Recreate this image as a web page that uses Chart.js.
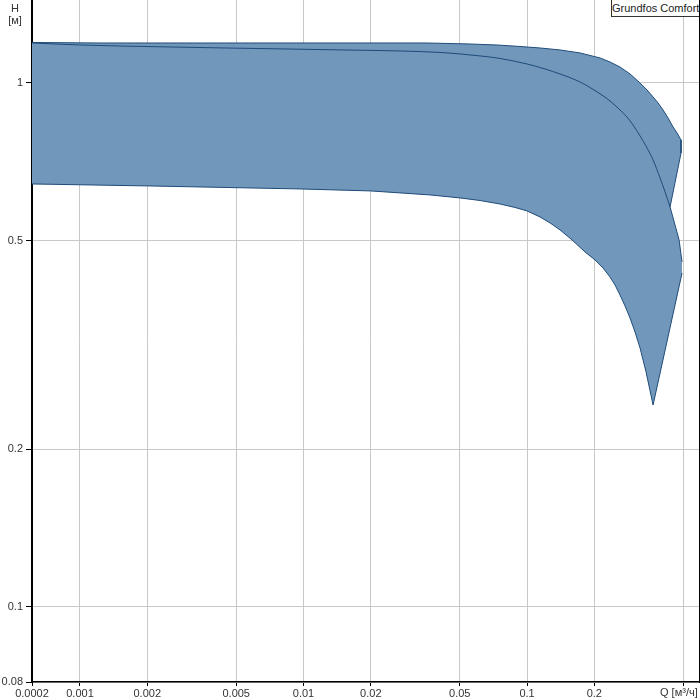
<!DOCTYPE html>
<html>
<head>
<meta charset="utf-8">
<script src="https://cdn.jsdelivr.net/npm/chart.js@4.4.0/dist/chart.umd.min.js"></script>
<style>
  html, body { margin:0; padding:0; background:#fff; }
  #wrap { position:relative; width:700px; height:700px; font-family: Arial, "Liberation Sans", sans-serif; }
  #h-label { position:absolute; left:0; top:2px; width:30px; text-align:center; font-size:11px; line-height:12px; color:#333; }
  #q-label { position:absolute; left:660px; top:686px; font-size:11px; line-height:12px; color:#333; white-space:nowrap; }
  #leyenda { position:absolute; left:611px; top:-1px; width:87px; height:16px; border:1px solid #333; background:#fff; font-size:11px; line-height:16px; text-align:center; color:#222; white-space:nowrap; overflow:hidden; }
  #borde-der { position:absolute; left:699px; top:0; width:1px; height:683px; background:#000; }
</style>
</head>
<body>
<div id="wrap">
  <canvas id="grafico" width="700" height="700"></canvas>
  <div id="h-label">H<br>[м]</div>
  <div id="q-label">Q [м³/ч]</div>
  <div id="leyenda">Grundfos Comfort</div>
  <div id="borde-der"></div>
</div>
<script>
// ejes (Q en m3/h, H en m)
const qMin = 0.00061, qMax = 0.588;
const hMin = 0.0719, hMax = 1.44;
const qTicks = [qMin, 0.001, 0.002, 0.005, 0.01, 0.02, 0.05, 0.1, 0.2, 0.5];
const qTickLabels = ['0.0002', '0.001', '0.002', '0.005', '0.01', '0.02', '0.05', '0.1', '0.2', ''];
const hTicks = [hMin, 0.1, 0.2, 0.5, 1];
const hTickLabels = ['0.08', '0.1', '0.2', '0.5', '1'];

// curva superior (velocidad max)
const qUpper = [0.00061, 0.001229, 0.005763, 0.03569, 0.0556, 0.07339, 0.09305, 0.11434, 0.14049, 0.17263, 0.21213, 0.23515, 0.26062, 0.28902, 0.3204, 0.34432, 0.36637, 0.38571, 0.40611, 0.4276, 0.4502, 0.46917, 0.48868];
const hUpper = [1.1947, 1.1921, 1.1921, 1.1921, 1.1869, 1.1817, 1.1740, 1.1663, 1.1562, 1.1411, 1.1162, 1.0966, 1.0728, 1.0404, 1.0, 0.9697, 0.9404, 0.9160, 0.8881, 0.8574, 0.8240, 0.8027, 0.7784];
// borde derecho (muesca)
const qEdge = [0.48868, 0.43647, 0.47897, 0.49376];
const hEdge = [0.7352, 0.5800, 0.5018, 0.4553];

// curva inferior (velocidad min) hasta la punta, luego borde derecho
const qLower = [0.00061, 0.002056, 0.009645, 0.02004, 0.03681, 0.05013, 0.06164, 0.07572, 0.08836, 0.1, 0.11434, 0.12675, 0.14049, 0.15897, 0.18175, 0.2015, 0.21878, 0.23515, 0.24756, 0.26062, 0.27443, 0.28902, 0.30428, 0.3204, 0.3408, 0.36637, 0.49376];
const hLower = [0.6416, 0.6360, 0.6277, 0.6222, 0.6114, 0.6034, 0.5966, 0.5875, 0.5787, 0.5699, 0.5550, 0.5407, 0.5243, 0.5018, 0.4759, 0.4594, 0.4435, 0.4263, 0.4116, 0.3939, 0.3753, 0.3559, 0.3347, 0.3120, 0.2809, 0.2429, 0.4338];

// curva intermedia
const qMid = [0.00061, 0.001, 0.002528, 0.004456, 0.008265, 0.014868, 0.02703, 0.04081, 0.05013, 0.06164, 0.07339, 0.1, 0.1204, 0.14049, 0.17263, 0.19946, 0.23515, 0.26062, 0.2801, 0.2981, 0.3204, 0.34432, 0.36637, 0.39375, 0.41454, 0.43647];
const hMid = [1.1921, 1.1817, 1.1714, 1.1663, 1.1612, 1.1562, 1.1511, 1.1436, 1.1361, 1.1262, 1.1162, 1.0871, 1.0634, 1.0404, 1.0044, 0.9697, 0.9240, 0.8881, 0.8612, 0.8313, 0.7923, 0.7515, 0.7130, 0.6588, 0.6195, 0.5800];

const colorRelleno = '#7198ba';
const colorBorde = '#1f4b7a';
const fuente = { family: 'Arial, "Liberation Sans", sans-serif', size: 11 };

function puntos(qs, hs) {
    return qs.map((q, i) => ({ x: q, y: hs[i] }));
}

const ctx = document.getElementById('grafico');
new Chart(ctx, {
    type: 'line',
    data: {
        datasets: [
            {
                label: 'Grundfos Comfort',
                data: puntos(qUpper.concat(qEdge), hUpper.concat(hEdge)),
                fill: '+1',
                backgroundColor: colorRelleno,
                borderColor: colorBorde,
                borderWidth: 1,
                pointRadius: 0,
                tension: 0
            },
            {
                label: 'min',
                data: puntos(qLower, hLower),
                fill: false,
                borderColor: colorBorde,
                borderWidth: 1,
                pointRadius: 0,
                tension: 0
            },
            {
                label: 'mid',
                data: puntos(qMid, hMid),
                fill: false,
                borderColor: colorBorde,
                borderWidth: 1,
                pointRadius: 0,
                cubicInterpolationMode: 'monotone'
            }
        ]
    },
    options: {
        responsive: false,
        animation: false,
        layout: { padding: { top: 0, right: 1, bottom: 0, left: 0 } },
        plugins: {
            legend: { display: false },
            tooltip: { enabled: false },
            filler: { drawTime: 'beforeDatasetsDraw' }
        },
        scales: {
            x: {
                type: 'logarithmic',
                min: qMin, max: qMax, bounds: 'data', z: 1,
                afterBuildTicks: s => { s.ticks = qTicks.map(v => ({ value: v })); },
                afterFit: s => { s.height = 18; s.paddingLeft = 0; s.paddingRight = 0; },
                ticks: {
                    autoSkip: false, maxRotation: 0, minRotation: 0, padding: 1,
                    color: '#333', font: fuente,
                    callback: (v, i) => qTickLabels[i]
                },
                grid: { color: '#c8c8c8', tickColor: '#000', tickLength: 4 },
                border: { color: '#000', width: 1.5 }
            },
            y: {
                type: 'logarithmic',
                min: hMin, max: hMax, bounds: 'data', z: 1,
                afterBuildTicks: s => { s.ticks = hTicks.map(v => ({ value: v })); },
                afterFit: s => { s.width = 32; s.paddingTop = 0; s.paddingBottom = 0; },
                ticks: {
                    autoSkip: false, padding: 3,
                    color: '#333', font: fuente,
                    callback: (v, i) => hTickLabels[i]
                },
                grid: { color: '#c8c8c8', tickColor: '#000', tickLength: 6 },
                border: { color: '#000', width: 2 }
            }
        }
    }
});
</script>
</body>
</html>
